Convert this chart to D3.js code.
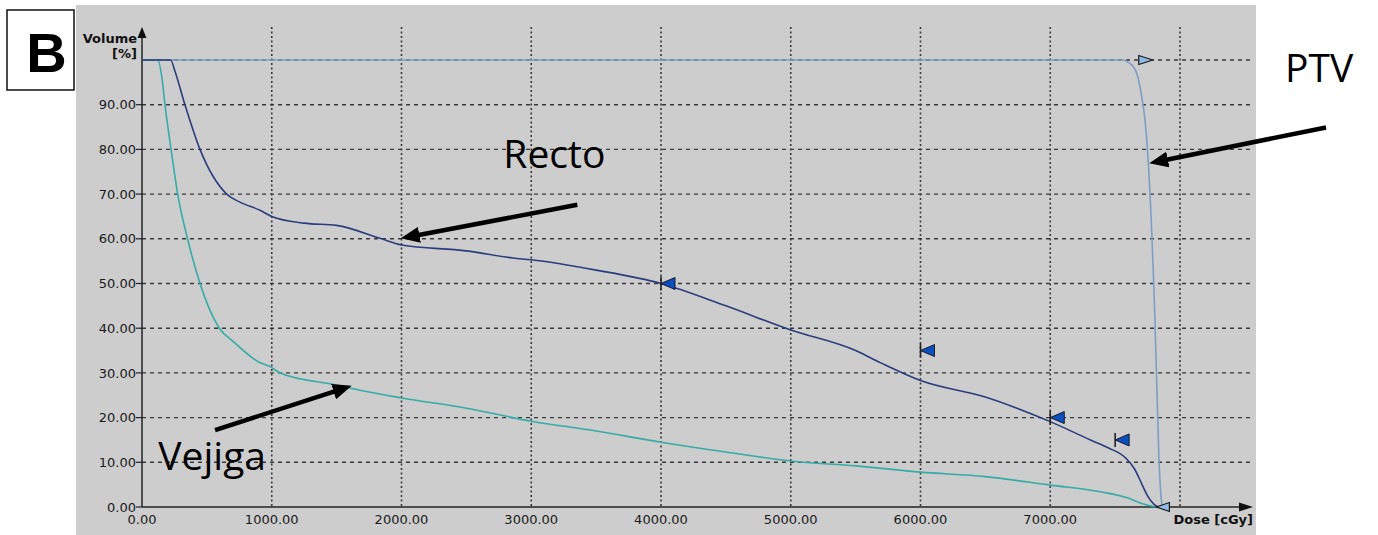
<!DOCTYPE html>
<html>
<head>
<meta charset="utf-8">
<script src="https://cdn.jsdelivr.net/npm/d3@7"></script>
<style>
  body { margin: 0; background: #fff; }
  text { font-family: "DejaVu Sans", sans-serif; }
</style>
</head>
<body>
<svg id="dvh" width="1378" height="535"></svg>
<script>
// tick values
var doseTicks = [0, 1000, 2000, 3000, 4000, 5000, 6000, 7000, 8000];
var doseLabels = [0, 1000, 2000, 3000, 4000, 5000, 6000, 7000];
var volumeTicks = [0, 10, 20, 30, 40, 50, 60, 70, 80, 90];
var volumeGrid = [10, 20, 30, 40, 50, 60, 70, 80, 90, 100];

// DVH curves, [dose cGy, volume %]
var rectoCurve = [[0, 100], [221, 100], [254, 97.5], [331, 90], [447, 80], [653, 70], [755, 68.2],
  [909, 66.4], [1000, 65], [1250, 63.5], [1500, 63], [1834, 60.1], [2000, 58.6], [2500, 57.3],
  [2860, 55.7], [3000, 55.3], [3500, 53], [4000, 50], [4500, 45], [5000, 39.6], [5500, 35],
  [5690, 32.3], [6000, 28.3], [6500, 24.6], [7000, 19.1], [7310, 15], [7450, 13.2], [7580, 11],
  [7650, 8.5], [7700, 5.5], [7750, 2.5], [7800, 0.6], [7833, 0]];
var vejigaCurve = [[0, 100], [121, 100], [156, 95.5], [177, 90], [224, 80], [275, 70], [351, 60],
  [447, 50], [596, 40], [704, 37], [896, 32.5], [987, 31.4], [1064, 30], [1500, 27.3], [1700, 26],
  [2000, 24.4], [2500, 22.1], [3000, 19.2], [3500, 17], [4000, 14.5], [4500, 12.3], [5000, 10.3],
  [5500, 9.2], [6000, 7.8], [6500, 6.8], [7000, 4.9], [7386, 3.4], [7600, 2], [7695, 0.9], [7818, 0]];
var ptvCurve = [[0, 100], [7550, 100], [7628, 98.9], [7671, 96.6], [7705, 91.8], [7730, 86.6],
  [7756, 76.9], [7807, 41.8], [7838, 10.5], [7859, 0.9], [7865, 0]];

// constraint markers
var rectoMarkers = [[4000, 50], [6000, 35], [7000, 20], [7500, 15]];
var ptvMarkers = [[7790, 100, "right"], [7818, 0, "left"]];

// annotations [text, textDose, textVol, tailDose, tailVol, tipDose, tipVol]
var labels = [
  ["Recto", 2785, 75.8, 3355, 67.6, 1994, 60.1],
  ["Vejiga", 126, 8.3, 563, 17.2, 1616, 27.1],
  ["PTV", 8809, 95.1, 9125, 84.9, 7763, 76.9]
];

var svg = d3.select("#dvh");

var x = d3.scaleLinear().domain([0, 8000]).range([142, 1180]),
    y = d3.scaleLinear().domain([0, 100]).range([507, 60]);

var xEnd = 1253, yTop = 27;

// grey panel
svg.append("rect")
    .attr("x", 76).attr("y", 5)
    .attr("width", 1180).attr("height", 530)
    .attr("fill", "#cdcdcd");

// "B" box
svg.append("rect")
    .attr("x", 7).attr("y", 10)
    .attr("width", 67).attr("height", 80)
    .attr("fill", "#fff").attr("stroke", "#111").attr("stroke-width", 1.5);
svg.append("text")
    .attr("x", 46.5).attr("y", 71.5)
    .attr("text-anchor", "middle")
    .style("font-family", "'Liberation Sans', Arial, sans-serif")
    .style("font-weight", "bold").style("font-size", "56px")
    .text("B");

// grid
svg.append("g").selectAll("line")
    .data(volumeGrid)
    .enter().append("line")
    .attr("x1", x(0)).attr("x2", xEnd - 2)
    .attr("y1", function(d) { return y(d); })
    .attr("y2", function(d) { return y(d); })
    .attr("stroke", "#3a3a3a").attr("stroke-width", 1.4)
    .attr("stroke-dasharray", "4,4");

svg.append("g").selectAll("line")
    .data(doseTicks.slice(1))
    .enter().append("line")
    .attr("x1", function(d) { return x(d); })
    .attr("x2", function(d) { return x(d); })
    .attr("y1", yTop).attr("y2", y(0))
    .attr("stroke", "#3a3a3a").attr("stroke-width", 1.6)
    .attr("stroke-dasharray", "2,2.5");

// axes
var axisG = svg.append("g");
axisG.append("line")
    .attr("x1", x(0)).attr("x2", xEnd - 8)
    .attr("y1", y(0)).attr("y2", y(0))
    .attr("stroke", "#222").attr("stroke-width", 1.5);
axisG.append("line")
    .attr("x1", x(0)).attr("x2", x(0))
    .attr("y1", y(0)).attr("y2", yTop + 8)
    .attr("stroke", "#222").attr("stroke-width", 1.5);
axisG.append("path")
    .attr("d", "M" + xEnd + "," + y(0) + "L" + (xEnd - 14) + "," + (y(0) - 4.5) + "L" + (xEnd - 14) + "," + (y(0) + 4.5) + "Z")
    .attr("fill", "#111");
axisG.append("path")
    .attr("d", "M" + x(0) + "," + yTop + "L" + (x(0) - 4.5) + "," + (yTop + 11) + "L" + (x(0) + 4.5) + "," + (yTop + 11) + "Z")
    .attr("fill", "#111");

axisG.selectAll(".ytick")
    .data(volumeTicks)
    .enter().append("line")
    .attr("class", "ytick")
    .attr("x1", x(0) - 6).attr("x2", x(0))
    .attr("y1", function(d) { return y(d); })
    .attr("y2", function(d) { return y(d); })
    .attr("stroke", "#222").attr("stroke-width", 1.2);

axisG.selectAll(".ylab")
    .data(volumeTicks)
    .enter().append("text")
    .attr("class", "ylab")
    .attr("x", x(0) - 6)
    .attr("y", function(d) { return y(d); })
    .attr("dy", "0.36em")
    .attr("text-anchor", "end")
    .style("font-size", "13px").attr("fill", "#1a1a1a")
    .text(function(d) { return d.toFixed(2); });

axisG.selectAll(".xlab")
    .data(doseLabels)
    .enter().append("text")
    .attr("class", "xlab")
    .attr("x", function(d) { return x(d); })
    .attr("y", 519)
    .attr("dy", "0.36em")
    .attr("text-anchor", "middle")
    .style("font-size", "13px").attr("fill", "#1a1a1a")
    .text(function(d) { return d.toFixed(2); });

axisG.append("text")
    .attr("x", 137).attr("y", 38).attr("dy", "0.36em")
    .attr("text-anchor", "end")
    .style("font-size", "13px").style("font-weight", "bold").attr("fill", "#111")
    .text("Volume");
axisG.append("text")
    .attr("x", 137).attr("y", 53).attr("dy", "0.36em")
    .attr("text-anchor", "end")
    .style("font-size", "13px").style("font-weight", "bold").attr("fill", "#111")
    .text("[%]");
axisG.append("text")
    .attr("x", xEnd).attr("y", 519).attr("dy", "0.36em")
    .attr("text-anchor", "end")
    .style("font-size", "13px").style("font-weight", "bold").attr("fill", "#111")
    .text("Dose [cGy]");

// curves
var line = d3.line()
    .x(function(d) { return x(d[0]); })
    .y(function(d) { return y(d[1]); })
    .curve(d3.curveMonotoneX);

svg.append("path").datum(ptvCurve)
    .attr("fill", "none").attr("stroke", "#7e9ec4").attr("stroke-width", 1.6)
    .attr("d", line);
svg.append("path").datum(vejigaCurve)
    .attr("fill", "none").attr("stroke", "#35aca6").attr("stroke-width", 1.6)
    .attr("d", line);
svg.append("path").datum(rectoCurve)
    .attr("fill", "none").attr("stroke", "#2b3d7c").attr("stroke-width", 1.6)
    .attr("d", line);

// constraint markers
var rm = svg.append("g").selectAll("g")
    .data(rectoMarkers)
    .enter().append("g")
    .attr("transform", function(d) { return "translate(" + x(d[0]) + "," + y(d[1]) + ")"; });
rm.append("line")
    .attr("x1", 0).attr("x2", 0).attr("y1", -7).attr("y2", 7)
    .attr("stroke", "#222").attr("stroke-width", 1.6);
rm.append("path")
    .attr("d", "M0,0L14,-6L14,6Z")
    .attr("fill", "#0a4fc0").attr("stroke", "#1a1a2a").attr("stroke-width", 1);

svg.append("g").selectAll("path")
    .data(ptvMarkers)
    .enter().append("path")
    .attr("transform", function(d) { return "translate(" + x(d[0]) + "," + y(d[1]) + ")"; })
    .attr("d", function(d) { return d[2] == "right" ? "M0,0L-14,-4.5L-14,4.5Z" : "M0,0L13,-4.5L13,4.5Z"; })
    .attr("fill", "#8fbbe6").attr("stroke", "#1a1a1a").attr("stroke-width", 1.2);

// annotations
svg.append("defs").append("marker")
    .attr("id", "arrowhead")
    .attr("markerUnits", "userSpaceOnUse")
    .attr("markerWidth", 20).attr("markerHeight", 16)
    .attr("refX", 10).attr("refY", 8)
    .attr("orient", "auto")
    .append("path")
    .attr("d", "M0,0L19,8L0,16Z")
    .attr("fill", "#000");

var ann = svg.append("g").selectAll("g")
    .data(labels)
    .enter().append("g");

ann.append("line")
    .attr("x1", function(d) { return x(d[3]); })
    .attr("y1", function(d) { return y(d[4]); })
    .attr("x2", function(d) {
        var dx = x(d[5]) - x(d[3]), dy = y(d[6]) - y(d[4]), len = Math.sqrt(dx * dx + dy * dy);
        return x(d[5]) - dx / len * 9;
    })
    .attr("y2", function(d) {
        var dx = x(d[5]) - x(d[3]), dy = y(d[6]) - y(d[4]), len = Math.sqrt(dx * dx + dy * dy);
        return y(d[6]) - dy / len * 9;
    })
    .attr("stroke", "#000").attr("stroke-width", 4.5)
    .attr("marker-end", "url(#arrowhead)");

ann.append("text")
    .attr("x", function(d) { return x(d[1]); })
    .attr("y", function(d) { return y(d[2]); })
    .style("font-family", "'Open Sans', 'Noto Sans', sans-serif")
    .style("font-size", "39px")
    .attr("fill", "#000")
    .text(function(d) { return d[0]; });
</script>
</body>
</html>
